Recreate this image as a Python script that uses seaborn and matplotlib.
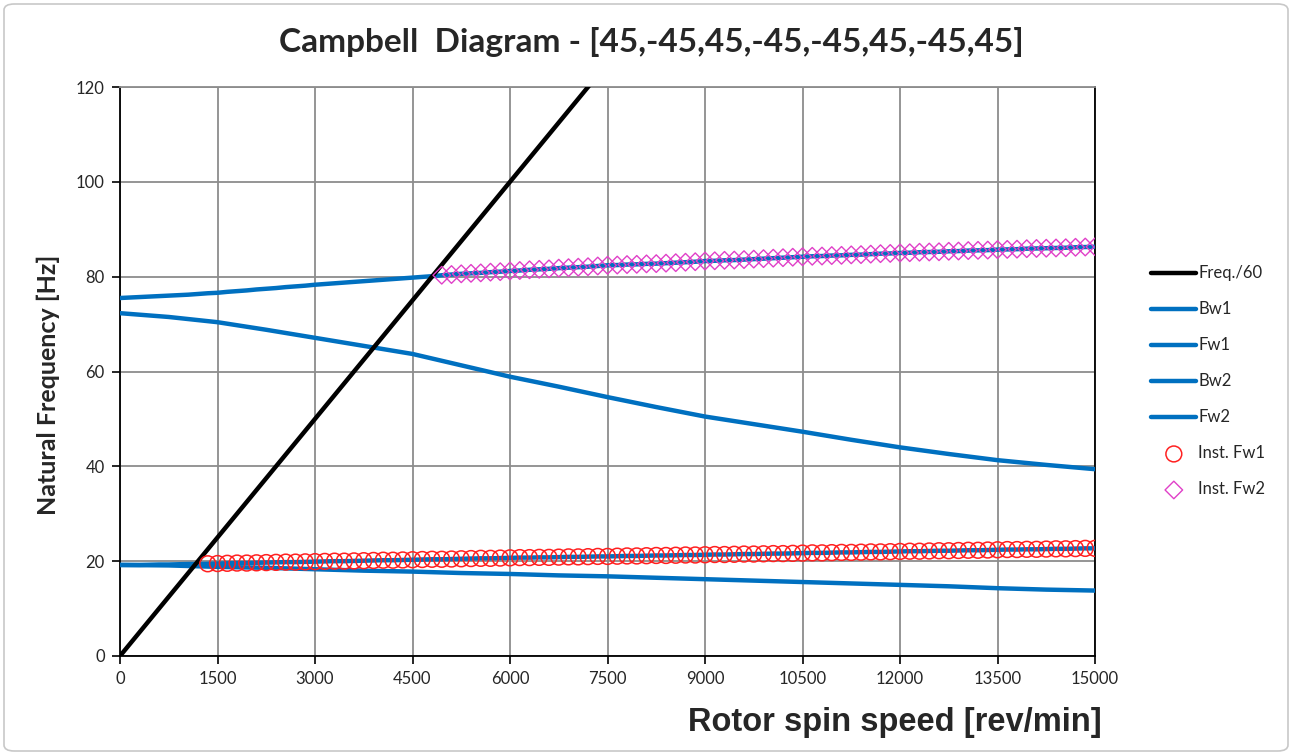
import numpy as np
import pandas as pd
import matplotlib
matplotlib.use("Agg")
import matplotlib.pyplot as plt
import seaborn as sns
from matplotlib.patches import FancyBboxPatch

# ---------------- data ----------------
speed_fine = list(range(0, 15001, 150))        # rpm grid for forward modes
speed_coarse = list(range(0, 15001, 750))      # rpm grid for backward modes
speed_excit = [0, 1500, 3000, 4500, 6000, 7500, 9000, 10500, 12000, 13500, 15000]
freq60 = [0, 25, 50, 75, 100, 125, 150, 175, 200, 225, 250]

fw1 = [19.2, 19.2, 19.2, 19.25, 19.3, 19.3, 19.35, 19.4, 19.4, 19.45,
       19.5, 19.55, 19.6, 19.6, 19.65, 19.7, 19.75, 19.8, 19.8, 19.85,
       19.9, 19.95, 20.0, 20.0, 20.05, 20.1, 20.15, 20.2, 20.2, 20.25,
       20.3, 20.35, 20.4, 20.4, 20.45, 20.5, 20.55, 20.6, 20.6, 20.65,
       20.7, 20.75, 20.75, 20.8, 20.8, 20.85, 20.9, 20.9, 20.95, 21.0,
       21.0, 21.05, 21.1, 21.1, 21.15, 21.2, 21.2, 21.25, 21.3, 21.3,
       21.35, 21.4, 21.4, 21.45, 21.5, 21.5, 21.55, 21.6, 21.6, 21.65,
       21.7, 21.75, 21.75, 21.8, 21.85, 21.85, 21.9, 21.95, 21.95, 22.0,
       22.05, 22.1, 22.1, 22.15, 22.2, 22.2, 22.25, 22.3, 22.3, 22.35,
       22.4, 22.45, 22.45, 22.5, 22.5, 22.55, 22.6, 22.6, 22.65, 22.7,
       22.7]

fw2 = [75.5, 75.6, 75.7, 75.8, 75.9, 76.0, 76.1, 76.2, 76.35, 76.5,
       76.6, 76.8, 76.95, 77.1, 77.3, 77.45, 77.6, 77.8, 77.95, 78.1,
       78.3, 78.45, 78.6, 78.75, 78.9, 79.05, 79.2, 79.35, 79.5, 79.65,
       79.8, 79.95, 80.1, 80.3, 80.45, 80.6, 80.7, 80.8, 80.95, 81.05,
       81.2, 81.3, 81.45, 81.55, 81.65, 81.8, 81.9, 82.0, 82.1, 82.25,
       82.4, 82.45, 82.55, 82.6, 82.7, 82.75, 82.85, 82.95, 83.05, 83.15,
       83.3, 83.35, 83.45, 83.5, 83.6, 83.7, 83.8, 83.9, 84.0, 84.1,
       84.2, 84.3, 84.35, 84.45, 84.5, 84.6, 84.65, 84.75, 84.85, 84.9,
       85.0, 85.05, 85.15, 85.2, 85.25, 85.35, 85.4, 85.5, 85.55, 85.6,
       85.7, 85.75, 85.8, 85.9, 85.95, 86.0, 86.05, 86.1, 86.2, 86.25,
       86.3]

bw1 = [19.2, 19.1, 18.8, 18.6, 18.3, 18.0, 17.8, 17.5, 17.3, 17.0, 16.8,
       16.5, 16.2, 15.9, 15.6, 15.3, 15.0, 14.7, 14.3, 14.0, 13.8]
bw2 = [72.3, 71.5, 70.4, 68.8, 67.1, 65.4, 63.7, 61.3, 58.9, 56.8, 54.6,
       52.5, 50.5, 48.9, 47.3, 45.6, 44.0, 42.6, 41.3, 40.3, 39.4]

inst_fw1_start = 9     # first unstable index (1350 rpm)
inst_fw2_start = 33    # first unstable index (4950 rpm)

xticks = [0, 1500, 3000, 4500, 6000, 7500, 9000, 10500, 12000, 13500, 15000]
yticks = [0, 20, 40, 60, 80, 100, 120]

title = "Campbell  Diagram - [45,-45,45,-45,-45,45,-45,45]"

# ---------------- figure ----------------
sns.set_theme(style="white")
plt.rcParams['font.family'] = ['Lato', 'DejaVu Sans']

W, H = 1292, 755
fig = plt.figure(figsize=(W / 100, H / 100), dpi=100)
ax = fig.add_axes([120 / W, 1 - 656 / H, (1095 - 120) / W, (656 - 87) / H])

blue = "#0070C0"
lw = 3.2

sns.lineplot(x=speed_excit, y=freq60, ax=ax, color="black", lw=lw, label="Freq./60", zorder=5)
sns.lineplot(x=speed_coarse, y=bw1, ax=ax, color=blue, lw=lw, label="Bw1", zorder=3)
sns.lineplot(x=speed_fine, y=fw1, ax=ax, color=blue, lw=lw, label="Fw1", zorder=3)
sns.lineplot(x=speed_coarse, y=bw2, ax=ax, color=blue, lw=lw, label="Bw2", zorder=3)
sns.lineplot(x=speed_fine, y=fw2, ax=ax, color=blue, lw=lw, label="Fw2", zorder=3)

n_before = len(ax.collections)
sns.scatterplot(x=speed_fine[inst_fw1_start:], y=fw1[inst_fw1_start:], ax=ax,
                marker="o", s=130, label="Inst. Fw1", zorder=6)
sns.scatterplot(x=speed_fine[inst_fw2_start:], y=fw2[inst_fw2_start:], ax=ax,
                marker="D", s=80, label="Inst. Fw2", zorder=6)
c1, c2 = ax.collections[n_before], ax.collections[n_before + 1]
c1.set_facecolor("none"); c1.set_edgecolor("#FF2020"); c1.set_linewidth(1.1)
c2.set_facecolor("none"); c2.set_edgecolor("#E040C8"); c2.set_linewidth(1.0)

ax.set_xlim(0, 15000)
ax.set_ylim(0, 120)
ax.set_xticks(xticks)
ax.set_yticks(yticks)
ax.set_xticklabels([str(t) for t in xticks])
ax.set_yticklabels([str(t) for t in yticks])
ax.grid(True, color="#8c8c8c", lw=1.3)
ax.set_axisbelow(True)
for s in ["left", "bottom", "right"]:
    ax.spines[s].set_visible(True)
    ax.spines[s].set_color("black")
    ax.spines[s].set_linewidth(1.3)
ax.spines["top"].set_color("#8c8c8c")
ax.spines["top"].set_linewidth(1.3)
ax.tick_params(axis="both", direction="out", length=6, width=1.2, color="black",
               labelsize=12, pad=5, bottom=True, left=True)
ax.set_xlabel("")
ax.set_ylabel("")

# legend
handles, labels = ax.get_legend_handles_labels()
if ax.legend_:
    ax.legend_.remove()
fig.legend(handles, labels, loc="upper left", bbox_to_anchor=(1143 / W, 1 - 257 / H),
           frameon=False, fontsize=12, handlelength=2.7, handletextpad=0.1,
           labelspacing=1.2, borderpad=0, markerscale=1.0)

fig.text(651 / W, 1 - 42 / H, title, ha="center", va="center",
         fontsize=24, fontweight="bold")
fig.text(895 / W, 1 - 722 / H, "Rotor spin speed [rev/min]", ha="center", va="center",
         fontsize=23.5, fontweight="bold", family=["Liberation Sans", "DejaVu Sans"])
fig.text(48 / W, 1 - 385 / H, "Natural Frequency [Hz]", ha="center", va="center",
         rotation=90, fontsize=18, fontweight="bold")

# outer chart border
fig.patches.append(FancyBboxPatch((4 / W, 4 / H), 1 - 8 / W, 1 - 8 / H,
                                  boxstyle="round,pad=0,rounding_size=0.008",
                                  transform=fig.transFigure, fill=False,
                                  edgecolor="#c8c8c8", lw=1.2))

fig.savefig("out.png", dpi=100)
